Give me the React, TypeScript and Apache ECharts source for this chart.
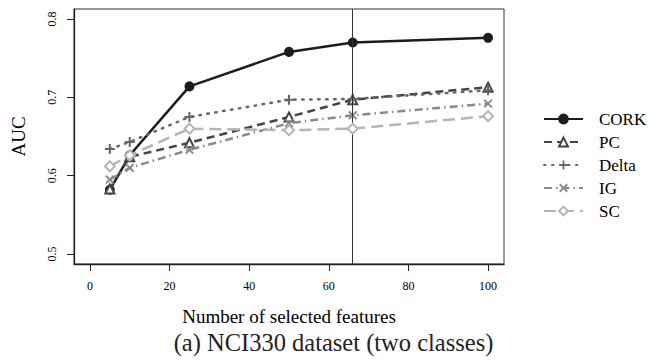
import React, { useEffect, useRef } from "react";
import * as echarts from "echarts";

const features = [5, 10, 25, 50, 66, 100];
const cork = [0.582, 0.626, 0.714, 0.758, 0.77, 0.776];
const pc = [0.583, 0.624, 0.642, 0.675, 0.697, 0.713];
const delta = [0.634, 0.643, 0.675, 0.697, 0.698, 0.709];
const ig = [0.595, 0.61, 0.633, 0.667, 0.677, 0.692];
const sc = [0.612, 0.626, 0.66, 0.658, 0.66, 0.676];
const selectedK = 66;
const xTicks = [0, 20, 40, 60, 80, 100];
const yTicks = [0.5, 0.6, 0.7, 0.8];

const SERIF = "'Liberation Serif', 'Times New Roman', serif";
const PLUS = "path://M4,0H6V4H10V6H6V10H4V6H0V4H4Z";
const CROSS =
  "path://M1.5,0L5,3.5L8.5,0L10,1.5L6.5,5L10,8.5L8.5,10L5,6.5L1.5,10L0,8.5L3.5,5L0,1.5Z";

function pairs(ys: number[]) {
  return features.map((x, i) => [x, ys[i]]);
}

export default function App() {
  const ref = useRef<HTMLDivElement>(null);
  useEffect(() => {
    const chart = echarts.init(ref.current!, null, { renderer: "svg" });
    const mk = (
      name: string,
      ys: number[],
      color: string,
      type: any,
      symbol: string,
      symbolSize: number,
      extra: any = {}
    ) => ({
      name,
      type: "line",
      data: pairs(ys),
      symbol,
      symbolSize,
      showSymbol: true,
      lineStyle: { color, width: 2.5, type, cap: "butt" },
      itemStyle: { color, borderColor: color, borderWidth: 2 },
      ...extra,
    });
    chart.setOption({
      animation: false,
      backgroundColor: "#fff",
      grid: {
        left: 74,
        top: 9,
        right: 144,
        bottom: 96,
        show: true,
        borderColor: "#333",
        borderWidth: 1,
        backgroundColor: "transparent",
      },
      xAxis: {
        type: "value",
        min: -4,
        max: 104,
        name: "Number of selected features",
        nameLocation: "middle",
        nameGap: 43,
        nameTextStyle: { fontFamily: SERIF, fontSize: 19, color: "#000" },
        axisLine: { show: true, onZero: false, lineStyle: { color: "#222", width: 1.3 } },
        axisTick: { show: true, length: 7, customValues: xTicks, lineStyle: { color: "#222" } },
        axisLabel: {
          customValues: xTicks,
          fontFamily: SERIF,
          fontSize: 12,
          color: "#000",
          margin: 16,
        },
        splitLine: { show: false },
      },
      yAxis: {
        type: "value",
        min: 0.4872,
        max: 0.8128,
        name: "AUC",
        nameLocation: "middle",
        nameGap: 46,
        nameTextStyle: { fontFamily: SERIF, fontSize: 19, color: "#000" },
        axisLine: { show: true, onZero: false, lineStyle: { color: "#222", width: 1.3 } },
        axisTick: { show: true, length: 7, customValues: yTicks, lineStyle: { color: "#222" } },
        axisLabel: {
          customValues: yTicks,
          rotate: 90,
          fontFamily: SERIF,
          fontSize: 12,
          color: "#000",
          margin: 16,
          formatter: (v: number) => v.toFixed(1),
        },
        splitLine: { show: false },
      },
      legend: {
        orient: "vertical",
        left: 538,
        top: 105.5,
        itemWidth: 39,
        itemHeight: 11,
        itemGap: 6,
        textStyle: { fontFamily: SERIF, fontSize: 17, color: "#000", padding: [0, 0, 0, 11] },
        data: ["CORK", "PC", "Delta", "IG", "SC"],
      },
      series: [
        mk("CORK", cork, "#1c1c1c", "solid", "circle", 8, {
          z: 1,
          markLine: {
            silent: true,
            symbol: "none",
            label: { show: false },
            lineStyle: { color: "#333", width: 1, type: "solid" },
            data: [{ xAxis: selectedK }],
          },
        }),
        mk("PC", pc, "#444444", [8, 5], "emptyTriangle", 9, { z: 2 }),
        mk("Delta", delta, "#666666", [1.5, 6], PLUS, 10, {
          z: 3,
          lineStyle: { color: "#666666", width: 2.5, type: [1.5, 6.5], cap: "round" },
          itemStyle: { color: "#666666", borderWidth: 0 },
        }),
        mk("IG", ig, "#8a8a8a", [8, 4, 1.5, 4], CROSS, 9, {
          z: 4,
          itemStyle: { color: "#8a8a8a", borderWidth: 0 },
        }),
        mk("SC", sc, "#b5b5b5", [12, 6], "emptyDiamond", 10, { z: 5 }),
      ],
      graphic: [
        {
          type: "text",
          x: 333.5,
          y: 342,
          style: {
            text: "(a) NCI330 dataset (two classes)",
            fontFamily: SERIF,
            fontSize: 24.5,
            fill: "#222",
            align: "center",
            verticalAlign: "middle",
          },
        },
      ],
    });
    return () => chart.dispose();
  }, []);
  return (
    <div
      ref={ref}
      style={{ position: "fixed", left: 0, top: 0, width: 648, height: 360, background: "#fff" }}
    />
  );
}
